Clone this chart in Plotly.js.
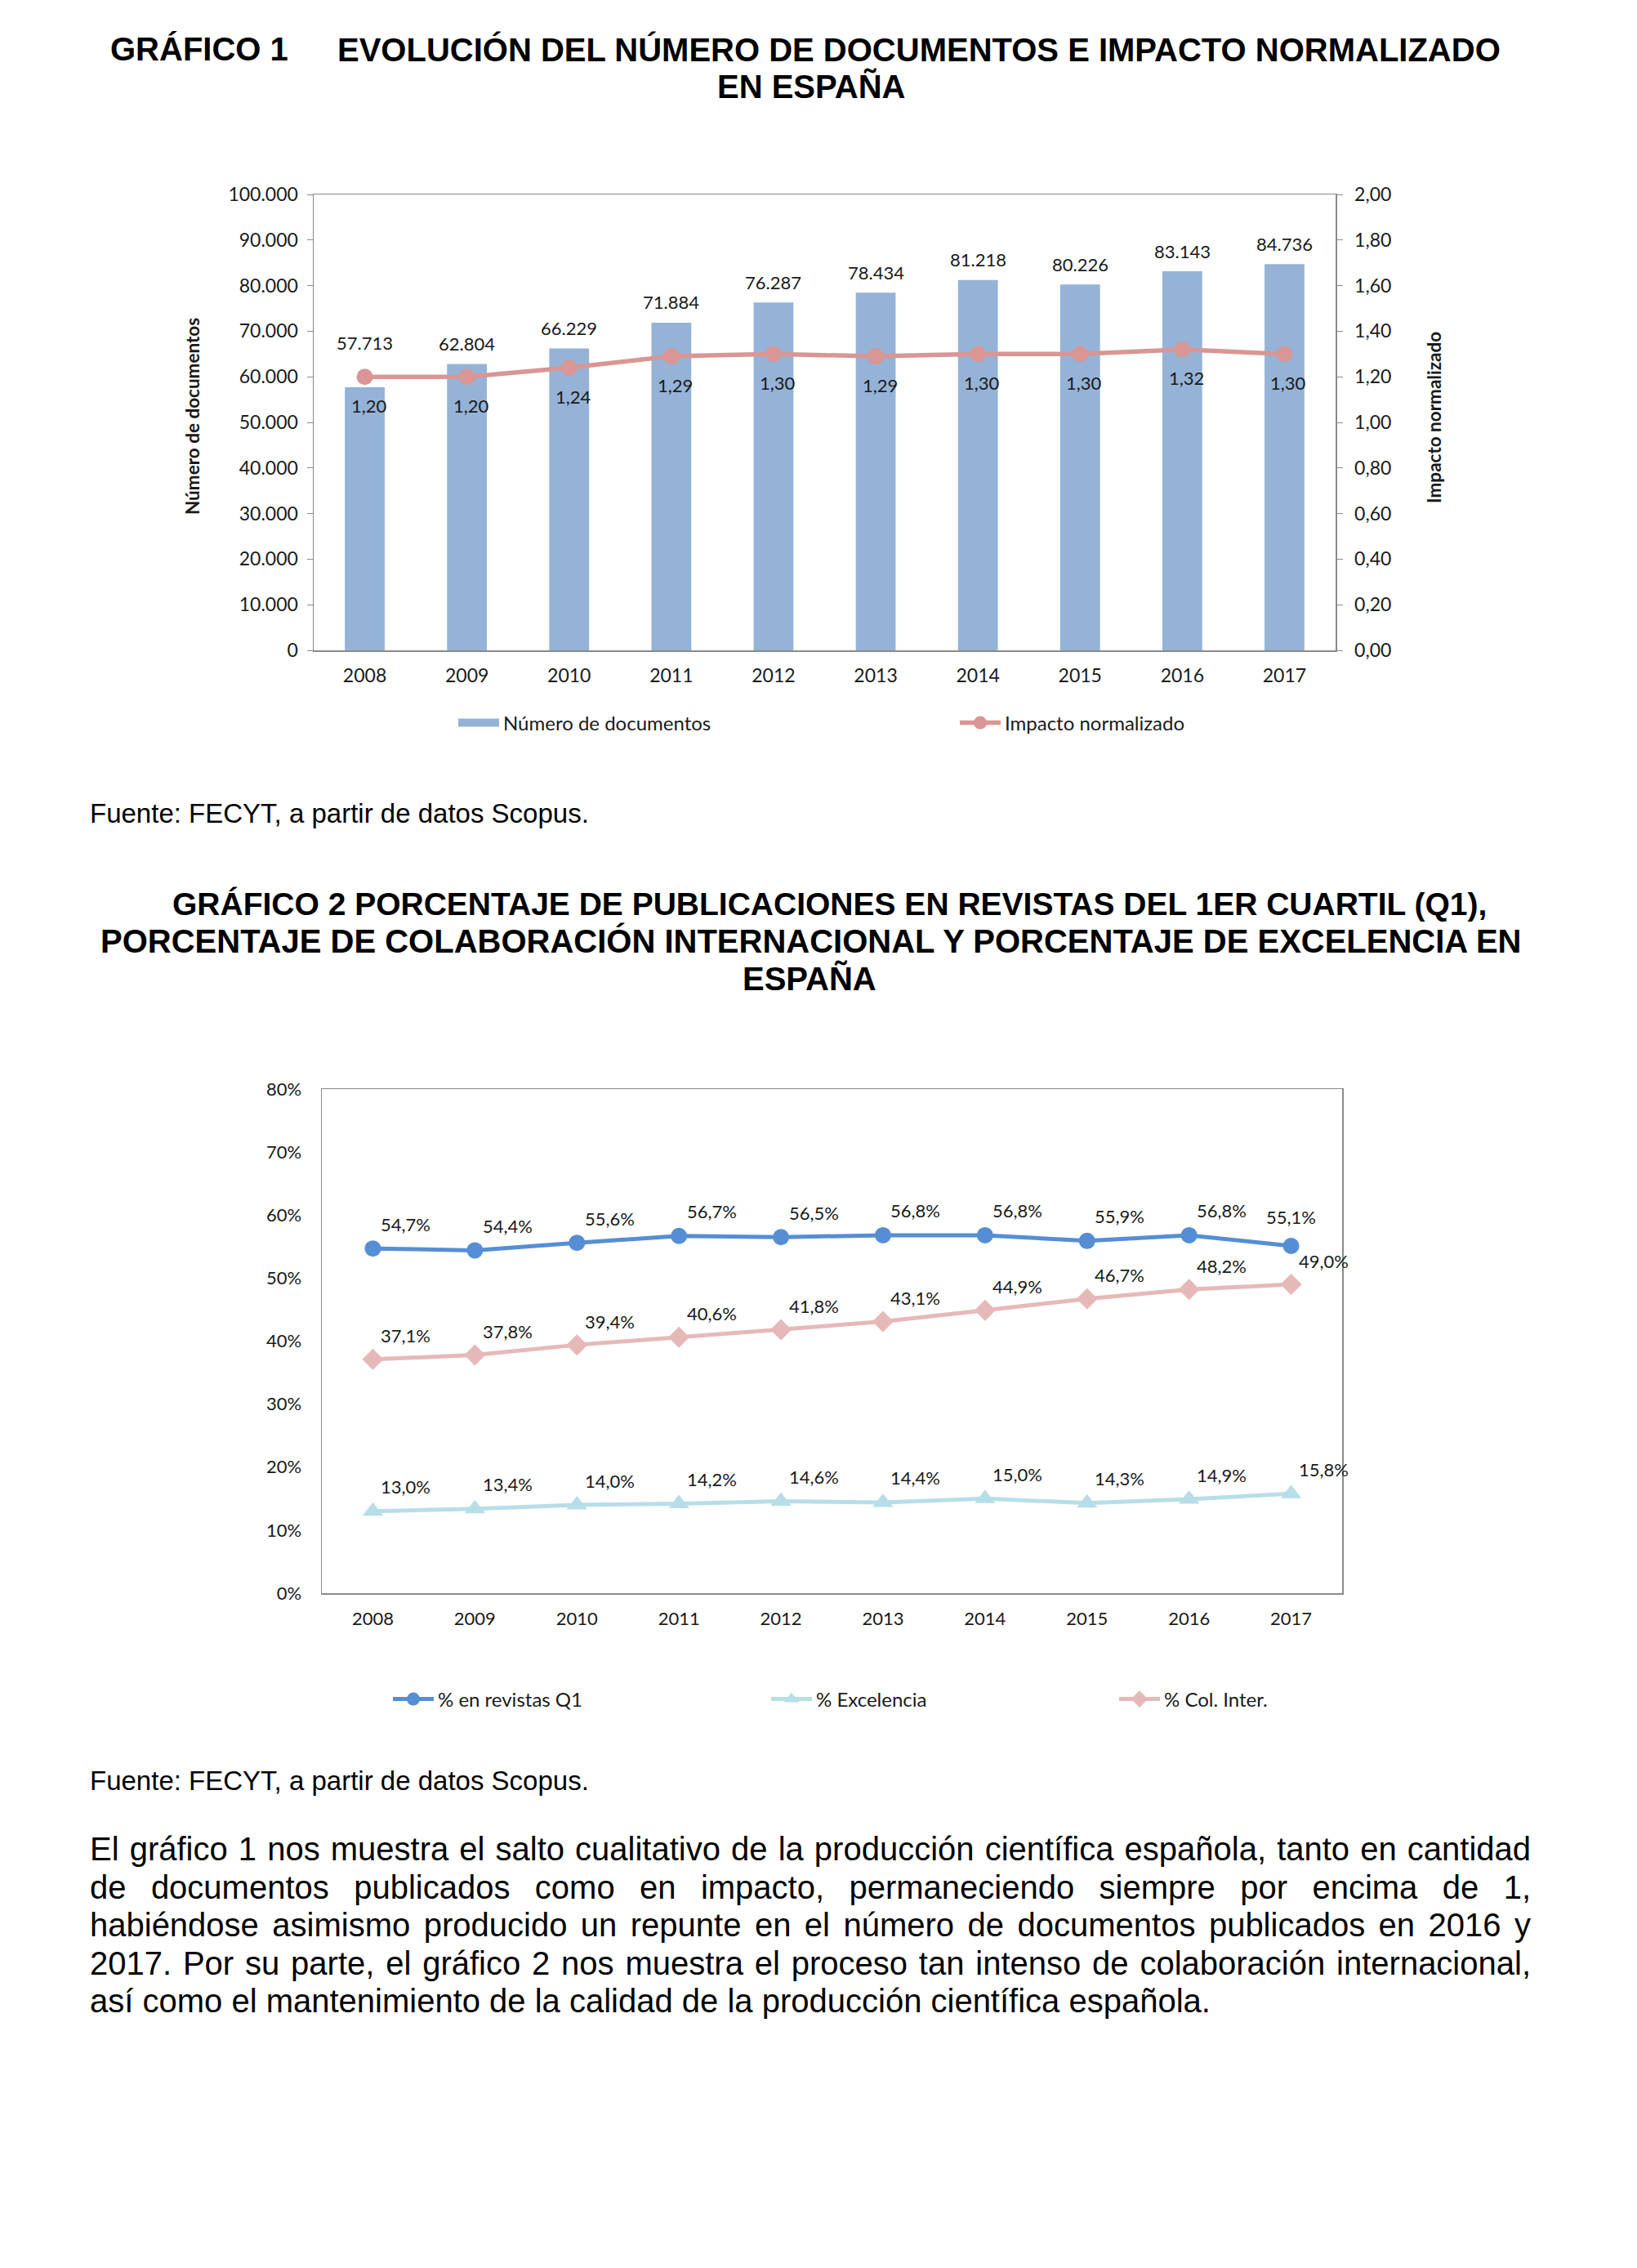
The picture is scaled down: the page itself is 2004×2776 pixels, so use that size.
<!DOCTYPE html>
<html>
<head>
<meta charset="utf-8">
<script src="https://cdn.plot.ly/plotly-3.0.1.min.js"></script>
<style>
html,body{margin:0;padding:0;background:#fff;}
#page{position:relative;width:2004px;height:2776px;overflow:hidden;}
#chart{position:absolute;left:0;top:0;width:2004px;height:2776px;}
#para{position:absolute;left:110px;top:2240px;width:1764px;font-family:"Liberation Sans",Arial,sans-serif;font-size:40px;line-height:46.5px;color:#000;}
#para div{text-align:justify;text-align-last:justify;}
#para div.last{text-align-last:left;}
</style>
</head>
<body>
<div id="page">
<div id="chart"></div>
<div id="para">
<div>El gráfico 1 nos muestra el salto cualitativo de la producción científica española, tanto en cantidad</div>
<div>de documentos publicados como en impacto, permaneciendo siempre por encima de 1,</div>
<div>habiéndose asimismo producido un repunte en el número de documentos publicados en 2016 y</div>
<div>2017. Por su parte, el gráfico 2 nos muestra el proceso tan intenso de colaboración internacional,</div>
<div class="last">así como el mantenimiento de la calidad de la producción científica española.</div>
</div>
</div>
<script>
// ---------- DATA ----------
const years = [2008, 2009, 2010, 2011, 2012, 2013, 2014, 2015, 2016, 2017];
const numDocumentos = [57713, 62804, 66229, 71884, 76287, 78434, 81218, 80226, 83143, 84736];
const impactoNormalizado = [1.20, 1.20, 1.24, 1.29, 1.30, 1.29, 1.30, 1.30, 1.32, 1.30];
const pctQ1 = [54.7, 54.4, 55.6, 56.7, 56.5, 56.8, 56.8, 55.9, 56.8, 55.1];
const pctExcelencia = [13.0, 13.4, 14.0, 14.2, 14.6, 14.4, 15.0, 14.3, 14.9, 15.8];
const pctColInter = [37.1, 37.8, 39.4, 40.6, 41.8, 43.1, 44.9, 46.7, 48.2, 49.0];

// ---------- helpers ----------
const W = 2004, H = 2776;
const px = x => x / W;
const py = y => 1 - y / H;
const fmtThousands = v => String(v).replace(/\B(?=(\d{3})+(?!\d))/g, '.');
const fmtDec2 = v => v.toFixed(2).replace('.', ',');
const fmtPct = v => v.toFixed(1).replace('.', ',') + '%';

const chartFont = 'Lato, "Open Sans", sans-serif';
const pageFont = '"Liberation Sans", Arial, sans-serif';
const axisGray = '#8a8a8a';
const textCol = '#1a1a1a';

const cBar = '#95B3D7', cImp = '#D99694';
const cQ1 = '#558ED5', cExc = '#B7DEE8', cCol = '#E6B9B8';

const traces = [
  {type:'bar', x: years, y: numDocumentos, xaxis:'x', yaxis:'y', name:'Número de documentos',
   marker:{color:cBar}, showlegend:false, hoverinfo:'skip'},
  // legend-only entry drawn as a wide flat swatch like the original
  {type:'scatter', mode:'lines', x:[null], y:[null], xaxis:'x', yaxis:'y', name:'Número de documentos',
   line:{color:cBar, width:14}, legend:'legend', hoverinfo:'skip'},
  {type:'scatter', mode:'lines+markers', x: years, y: impactoNormalizado, xaxis:'x', yaxis:'y2',
   name:'Impacto normalizado', line:{color:cImp, width:5.5}, marker:{color:cImp, size:20, symbol:'circle'},
   legend:'legend2', hoverinfo:'skip'},
  {type:'scatter', mode:'lines+markers', x: years, y: pctQ1, xaxis:'x2', yaxis:'y3',
   name:'% en revistas Q1', line:{color:cQ1, width:5}, marker:{color:cQ1, size:20, symbol:'circle'},
   legend:'legend3', hoverinfo:'skip'},
  {type:'scatter', mode:'lines+markers', x: years, y: pctExcelencia, xaxis:'x2', yaxis:'y3',
   name:'% Excelencia', line:{color:cExc, width:5}, marker:{color:cExc, size:22, symbol:'triangle-up'},
   legend:'legend4', hoverinfo:'skip'},
  {type:'scatter', mode:'lines+markers', x: years, y: pctColInter, xaxis:'x2', yaxis:'y3',
   name:'% Col. Inter.', line:{color:cCol, width:5}, marker:{color:cCol, size:20, symbol:'diamond'},
   legend:'legend5', hoverinfo:'skip'}
];

const tickFont = {family: chartFont, size: 23, color: textCol};
const tickFont2 = {family: chartFont, size: 22, color: textCol};
const legFont = {family: chartFont, size: 24, color: textCol};

const annotations = [];
function addText(text, x, y, opts) {
  annotations.push(Object.assign({text, x: px(x), y: py(y), xref:'paper', yref:'paper',
    showarrow:false, xanchor:'center', yanchor:'middle'}, opts));
}
const titleFont = {family: pageFont, size: 40, color:'#000', weight:'bold'};
addText('GRÁFICO 1', 133, 60, {xanchor:'left', font:titleFont});
addText('EVOLUCIÓN DEL NÚMERO DE DOCUMENTOS E IMPACTO NORMALIZADO', 411, 60, {xanchor:'left', font:titleFont});
addText('EN ESPAÑA', 993, 106, {font:titleFont});
addText('Fuente: FECYT, a partir de datos Scopus.', 108, 996, {xanchor:'left', font:{family:pageFont, size:33, color:'#000'}});
addText('GRÁFICO 2 PORCENTAJE DE PUBLICACIONES EN REVISTAS DEL 1ER CUARTIL (Q1),', 1016, 1106, {font:Object.assign({}, titleFont, {size:39})});
addText('PORCENTAJE DE COLABORACIÓN INTERNACIONAL Y PORCENTAJE DE EXCELENCIA EN', 992, 1151, {font:titleFont});
addText('ESPAÑA', 991, 1197, {font:titleFont});
addText('Fuente: FECYT, a partir de datos Scopus.', 108, 2179, {xanchor:'left', font:{family:pageFont, size:33, color:'#000'}});

const axTitleFont = {family: chartFont, size: 22.5, color: textCol, weight:'bold'};
addText('Número de documentos', 236, 510, {textangle:-90, font:axTitleFont});
addText('Impacto normalizado', 1755, 511, {textangle:-90, font:axTitleFont});

// label offsets (px) for the Q1 series; the last label sits above its point
const q1LabelDx = [40, 40, 40, 40, 40, 40, 40, 40, 40, 0];
const q1LabelDy = [30, 30, 30, 30, 30, 30, 30, 30, 30, 36];

const labFont = {family: chartFont, size: 22, color: textCol};
years.forEach((yr, i) => {
  annotations.push({x: yr, y: numDocumentos[i], xref:'x', yref:'y', text: fmtThousands(numDocumentos[i]),
    showarrow:false, xanchor:'center', yanchor:'middle', yshift: i === 0 ? 54 : 25, font: labFont});
  annotations.push({x: yr, y: impactoNormalizado[i], xref:'x', yref:'y2', text: fmtDec2(impactoNormalizado[i]),
    showarrow:false, xanchor:'center', yanchor:'middle', yshift: -35, xshift: 5, font: labFont});
  annotations.push({x: yr, y: pctQ1[i], xref:'x2', yref:'y3', text: fmtPct(pctQ1[i]),
    showarrow:false, xanchor:'center', yanchor:'middle', yshift: q1LabelDy[i], xshift: q1LabelDx[i], font: labFont});
  annotations.push({x: yr, y: pctColInter[i], xref:'x2', yref:'y3', text: fmtPct(pctColInter[i]),
    showarrow:false, xanchor:'center', yanchor:'middle', yshift: 29, xshift: 40, font: labFont});
  annotations.push({x: yr, y: pctExcelencia[i], xref:'x2', yref:'y3', text: fmtPct(pctExcelencia[i]),
    showarrow:false, xanchor:'center', yanchor:'middle', yshift: 30, xshift: 40, font: labFont});
});

const legBase = {orientation:'h', xanchor:'left', yanchor:'middle', font: legFont,
  bgcolor:'rgba(0,0,0,0)', borderwidth:0, itemwidth:50, itemclick:false, itemdoubleclick:false};

const xCommon = {type:'linear', range:[2007.5, 2017.5], tickvals: years, tickformat:'d',
  showline:true, mirror:true, linecolor: axisGray, linewidth:1.5, ticks:'', showgrid:false,
  zeroline:false, fixedrange:true};

const layout = {
  width: W, height: H,
  margin: {l:0, r:0, t:0, b:0, pad:0},
  paper_bgcolor:'#fff', plot_bgcolor:'rgba(0,0,0,0)',
  separators: ',.',
  bargap: 0.61,
  font: {family: chartFont, color: textCol},
  xaxis: Object.assign({}, xCommon, {domain:[px(384), px(1635)], anchor:'y', tickfont: tickFont, ticklabelstandoff: 10}),
  yaxis: {domain:[py(796), py(238)], anchor:'x', range:[0, 100000], dtick:10000, tickformat:',d',
    showline:true, linecolor: axisGray, linewidth:1.5, ticks:'outside', ticklen:7, tickcolor: axisGray,
    showgrid:false, zeroline:false, tickfont: tickFont, ticklabelstandoff: 6, fixedrange:true},
  yaxis2: {overlaying:'y', side:'right', anchor:'x', range:[0, 2], dtick:0.2, tickformat:'.2f',
    showline:true, linecolor: axisGray, linewidth:1.5, ticks:'outside', ticklen:7, tickcolor: axisGray,
    showgrid:false, zeroline:false, tickfont: tickFont, ticklabelstandoff: 10, fixedrange:true},
  xaxis2: Object.assign({}, xCommon, {domain:[px(394), px(1643)], anchor:'y3', tickfont: tickFont2, ticklabelstandoff: 11}),
  yaxis3: {domain:[py(1950), py(1333)], anchor:'x2', range:[0, 80], dtick:10, ticksuffix:'%',
    showline:true, mirror:true, linecolor: axisGray, linewidth:1.5, ticks:'', showgrid:false, zeroline:false,
    tickfont: tickFont2, ticklabelstandoff: 19, fixedrange:true},
  legend:  Object.assign({}, legBase, {x: px(556), y: py(885)}),
  legend2: Object.assign({}, legBase, {x: px(1170), y: py(885)}),
  legend3: Object.assign({}, legBase, {x: px(476), y: py(2080)}),
  legend4: Object.assign({}, legBase, {x: px(939), y: py(2080)}),
  legend5: Object.assign({}, legBase, {x: px(1365), y: py(2080)}),
  showlegend: true,
  annotations: annotations
};

Plotly.newPlot('chart', traces, layout, {displayModeBar:false, staticPlot:true});
</script>
</body>
</html>
